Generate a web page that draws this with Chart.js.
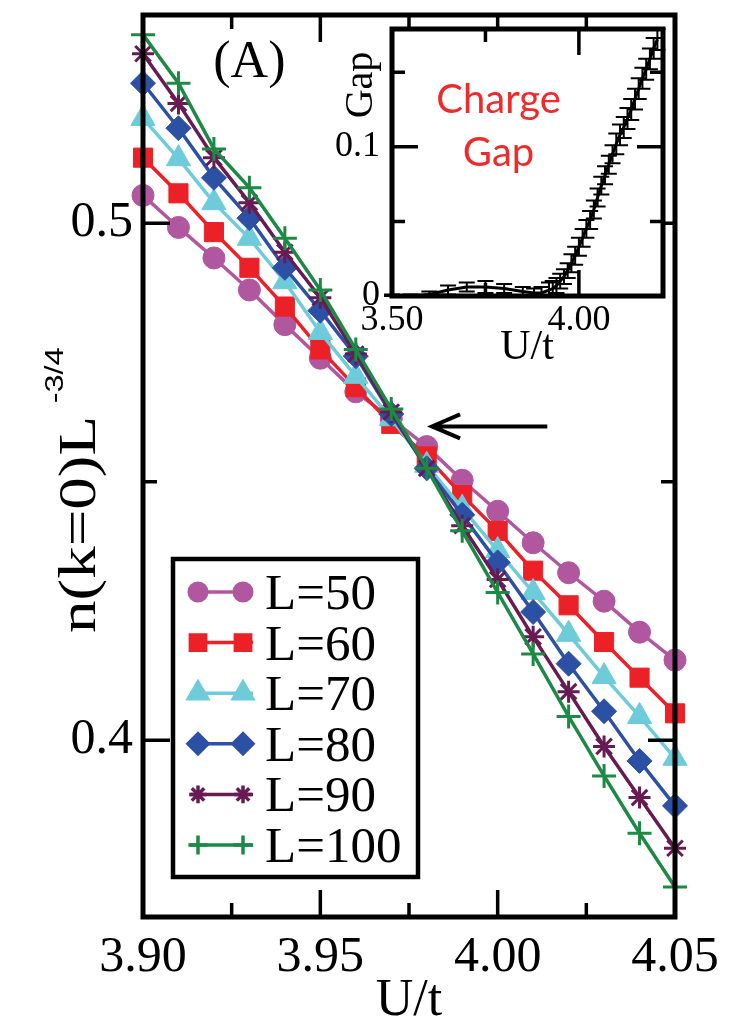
<!DOCTYPE html>
<html lang="en">
<head>
<meta charset="UTF-8" />
<title>n(k=0) L^-3/4 vs U/t</title>
<script src="https://cdn.jsdelivr.net/npm/chart.js"></script>
<style>
  body { margin: 0; background: #fff; }
  .wrap { position: relative; width: 740px; height: 1027px; }
  #main { position: absolute; left: 0; top: 0; }
  #inset { position: absolute; left: 300px; top: 0; }
</style>
</head>
<body>
<div class="wrap">
  <canvas id="main" width="740" height="1027"></canvas>
  <canvas id="inset" width="380" height="370"></canvas>
</div>
<script>
// ---- main panel data ----
const uValues = [3.90, 3.91, 3.92, 3.93, 3.94, 3.95, 3.96, 3.97, 3.98, 3.99, 4.00, 4.01, 4.02, 4.03, 4.04, 4.05];
const sizeLabels = ["L=50", "L=60", "L=70", "L=80", "L=90", "L=100"];
const nL50  = [0.5054, 0.4992, 0.4933, 0.4871, 0.4804, 0.4739, 0.4674, 0.4622, 0.4568, 0.4503, 0.4443, 0.4382, 0.4324, 0.4269, 0.4209, 0.4155];
const nL60  = [0.5127, 0.5058, 0.4983, 0.4914, 0.4839, 0.4756, 0.4683, 0.4612, 0.4549, 0.4474, 0.4405, 0.4328, 0.4261, 0.4190, 0.4121, 0.4052];
const nL70  = [0.5203, 0.5125, 0.5040, 0.4971, 0.4887, 0.4789, 0.4704, 0.4622, 0.4532, 0.4449, 0.4367, 0.4286, 0.4205, 0.4123, 0.4046, 0.3965];
const nL80  = [0.5271, 0.5184, 0.5088, 0.5010, 0.4914, 0.4831, 0.4743, 0.4631, 0.4526, 0.4436, 0.4344, 0.4248, 0.4148, 0.4056, 0.3960, 0.3873];
const nL90  = [0.5328, 0.5232, 0.5127, 0.5040, 0.4944, 0.4856, 0.4747, 0.4635, 0.4526, 0.4415, 0.4311, 0.4200, 0.4094, 0.3988, 0.3889, 0.3791];
const nL100 = [0.5365, 0.5271, 0.5144, 0.5069, 0.4971, 0.4871, 0.4756, 0.4641, 0.4526, 0.4405, 0.4286, 0.4167, 0.4046, 0.3931, 0.3820, 0.3716];
const xMajorTicks = [3.90, 3.95, 4.00, 4.05];
const xMinorTicks = [3.925, 3.975, 4.025];
const yMajorTicks = [0.4, 0.5];
const yMinorTicks = [0.45];
const arrowTail = [4.014, 0.4607];
const arrowTip = [3.9815, 0.4607];

// ---- inset (charge gap) data ----
const gapU = [3.50, 3.55, 3.60, 3.65, 3.70, 3.75, 3.80, 3.85, 3.88, 3.90, 3.92, 3.93, 3.94, 3.95, 3.96, 3.97,
              3.98, 3.99, 4.00, 4.01, 4.02, 4.03, 4.04, 4.05, 4.06, 4.07, 4.08, 4.09, 4.10, 4.11, 4.12, 4.13,
              4.14, 4.15, 4.16, 4.17, 4.18, 4.19, 4.20, 4.21];
const gapValues = [0.000, 0.000, 0.001, 0.004, 0.006, 0.006, 0.005, 0.003, 0.002, 0.002, 0.004, 0.005, 0.007, 0.010, 0.013, 0.017,
                   0.022, 0.027, 0.033, 0.039, 0.045, 0.051, 0.058, 0.066, 0.074, 0.081, 0.088, 0.095, 0.102, 0.108, 0.113, 0.119,
                   0.125, 0.132, 0.139, 0.146, 0.152, 0.159, 0.166, 0.172];
const gapErrors = [0.001, 0.001, 0.002, 0.003, 0.003, 0.004, 0.003, 0.003, 0.003, 0.004, 0.005, 0.005, 0.005, 0.005, 0.005, 0.005,
                   0.006, 0.006, 0.006, 0.006, 0.006, 0.006, 0.006, 0.006, 0.006, 0.006, 0.006, 0.006, 0.007, 0.007, 0.007, 0.007,
                   0.007, 0.007, 0.007, 0.007, 0.007, 0.007, 0.007, 0.007];
const insetXTicks = [3.5, 4.0];
const insetXMinor = [3.75];
const insetYTicks = [0, 0.1];
const insetYMinor = [0.05, 0.15];

// ---- styles ----
const serif = "Liberation Serif";
const seriesColors = ["#b0579f", "#ec2127", "#6ecbd9", "#2c50a4", "#681a52", "#1c8a45"];
const seriesMarkers = ["circle", "rect", "triangle", "rectRot", "star", "cross"];
const markerRadius = [11, 13.5, 14, 12.5, 11, 12];

Chart.defaults.font.family = serif;
Chart.defaults.color = "#000";

// drop the half-label padding chart.js reserves at the axis ends
const noEndPadding = (s) => { s.paddingTop = 0; s.paddingBottom = 0; };

// inward tick marks on all four sides plus the frame
function drawFrame(chart, xMaj, xMin, yMaj, yMin, lenMaj, lenMin, frameWidth) {
  const { ctx, chartArea: a, scales: { x, y } } = chart;
  ctx.save();
  ctx.strokeStyle = "#000";
  ctx.lineWidth = 3.5;
  ctx.beginPath();
  const xt = (v, len) => {
    const p = x.getPixelForValue(v);
    ctx.moveTo(p, a.bottom); ctx.lineTo(p, a.bottom - len);
    ctx.moveTo(p, a.top); ctx.lineTo(p, a.top + len);
  };
  const yt = (v, len) => {
    const p = y.getPixelForValue(v);
    ctx.moveTo(a.left, p); ctx.lineTo(a.left + len, p);
    ctx.moveTo(a.right, p); ctx.lineTo(a.right - len, p);
  };
  xMaj.forEach(v => xt(v, lenMaj));
  xMin.forEach(v => xt(v, lenMin));
  yMaj.forEach(v => yt(v, lenMaj));
  yMin.forEach(v => yt(v, lenMin));
  ctx.stroke();
  ctx.lineWidth = frameWidth;
  ctx.strokeRect(a.left, a.top, a.right - a.left, a.bottom - a.top);
  ctx.restore();
}

const mainDecor = {
  id: "mainDecor",
  afterDraw(chart) {
    const { ctx, chartArea: a, scales: { x, y } } = chart;
    drawFrame(chart, xMajorTicks, xMinorTicks, yMajorTicks, yMinorTicks, 27, 14, 5);

    // arrow pointing at the crossing
    const tx = x.getPixelForValue(arrowTip[0]), ty = y.getPixelForValue(arrowTip[1]);
    const sx = x.getPixelForValue(arrowTail[0]);
    ctx.save();
    ctx.strokeStyle = "#000";
    ctx.lineWidth = 4;
    ctx.beginPath();
    ctx.moveTo(sx, ty); ctx.lineTo(tx, ty);
    ctx.moveTo(tx + 28, ty - 12); ctx.lineTo(tx, ty); ctx.lineTo(tx + 28, ty + 12);
    ctx.stroke();

    // panel tag
    ctx.fillStyle = "#000";
    ctx.font = "52px " + serif;
    ctx.textAlign = "center";
    ctx.textBaseline = "middle";
    ctx.fillText("(A)", x.getPixelForValue(3.93), y.getPixelForValue(0.531));

    // y axis title with superscript
    ctx.save();
    ctx.translate(95, 633);
    ctx.rotate(-Math.PI / 2);
    ctx.scale(1.25, 1);
    ctx.textAlign = "left";
    ctx.textBaseline = "alphabetic";
    ctx.font = "52px " + serif;
    const w = ctx.measureText("n(k=0)L").width;
    ctx.fillText("n(k=0)L", 0, 0);
    ctx.font = "26px Liberation Sans";
    ctx.fillText("-3/4", w + 10, -32);
    ctx.restore();

    // legend box
    const bx = a.left + 30, by = a.top + 544, bw = 245, bh = 318;
    ctx.fillStyle = "#fff";
    ctx.fillRect(bx, by, bw, bh);
    ctx.lineWidth = 4.5;
    ctx.strokeRect(bx, by, bw, bh);
    chart.data.datasets.forEach((ds, i) => {
      const cy = by + 33 + i * 50.6;
      ctx.strokeStyle = ds.borderColor;
      ctx.fillStyle = ds.backgroundColor;
      ctx.lineWidth = 3.5;
      ctx.beginPath();
      ctx.moveTo(bx + 17, cy); ctx.lineTo(bx + 80, cy);
      ctx.stroke();
      const opts = { pointStyle: ds.pointStyle, radius: ds.pointRadius * 0.8, rotation: 0, borderWidth: ds.pointBorderWidth };
      Chart.helpers.drawPoint(ctx, opts, bx + 25, cy);
      Chart.helpers.drawPoint(ctx, opts, bx + 70, cy);
      ctx.fillStyle = "#000";
      ctx.font = "51px " + serif;
      ctx.textAlign = "left";
      ctx.textBaseline = "alphabetic";
      ctx.fillText(ds.label, bx + 92, cy + 17);
    });
    ctx.restore();
  }
};

const seriesData = [nL50, nL60, nL70, nL80, nL90, nL100];
new Chart(document.getElementById("main"), {
  type: "line",
  data: {
    datasets: seriesData.map((vals, i) => ({
      label: sizeLabels[i],
      data: vals.map((v, j) => ({ x: uValues[j], y: v })),
      borderColor: seriesColors[i],
      backgroundColor: seriesColors[i],
      borderWidth: 3.5,
      pointStyle: seriesMarkers[i],
      pointRadius: markerRadius[i],
      pointBorderWidth: i >= 4 ? 3 : 1,
      pointBorderColor: seriesColors[i],
      pointBackgroundColor: seriesColors[i],
      tension: 0,
      clip: false,
      order: 5 - i
    }))
  },
  options: {
    responsive: false,
    animation: false,
    devicePixelRatio: 1,
    layout: { padding: { top: 8, right: 65, left: 0, bottom: 0 } },
    plugins: { legend: { display: false }, tooltip: { enabled: false } },
    scales: {
      x: {
        type: "linear",
        min: 3.9,
        max: 4.05,
        afterBuildTicks: (s) => { s.ticks = xMajorTicks.map(v => ({ value: v })); },
        afterFit: (s) => { s.height = 110; },
        grid: { display: false, drawTicks: false },
        border: { display: false },
        ticks: { font: { size: 50 }, padding: 11, maxRotation: 0, autoSkip: false, callback: (v) => v.toFixed(2) },
        title: { display: true, text: "U/t", font: { size: 52, lineHeight: 1 }, padding: 0 }
      },
      y: {
        min: 0.3658,
        max: 0.5403,
        afterBuildTicks: (s) => { s.ticks = yMajorTicks.map(v => ({ value: v })); },
        afterFit: (s) => { s.width = 143; noEndPadding(s); },
        grid: { display: false, drawTicks: false },
        border: { display: false },
        ticks: { font: { size: 50 }, padding: 10, autoSkip: false, callback: (v) => v.toFixed(1) }
      }
    }
  },
  plugins: [mainDecor]
});

// ---- inset ----
const insetDecor = {
  id: "insetDecor",
  beforeDatasetsDraw(chart) {
    const { ctx, chartArea: a } = chart;
    ctx.save();
    ctx.fillStyle = "#fff";
    ctx.fillRect(a.left, a.top, a.right - a.left, a.bottom - a.top);
    ctx.restore();
  },
  afterDatasetsDraw(chart) {
    const { ctx, scales: { x, y } } = chart;
    ctx.save();
    ctx.strokeStyle = "#000";
    ctx.lineWidth = 2;
    ctx.beginPath();
    gapU.forEach((u, i) => {
      const px = x.getPixelForValue(u);
      const top = y.getPixelForValue(gapValues[i] + gapErrors[i]);
      const bot = y.getPixelForValue(Math.max(gapValues[i] - gapErrors[i], 0));
      ctx.moveTo(px, top); ctx.lineTo(px, bot);
      ctx.moveTo(px - 8, top); ctx.lineTo(px + 8, top);
      ctx.moveTo(px - 8, bot); ctx.lineTo(px + 8, bot);
    });
    ctx.stroke();
    ctx.restore();
  },
  afterDraw(chart) {
    const { ctx, chartArea: a, scales: { x, y } } = chart;
    drawFrame(chart, insetXTicks, insetXMinor, insetYTicks, insetYMinor, 26, 13, 5);
    ctx.save();
    ctx.fillStyle = "#000";
    ctx.font = "42px " + serif;
    ctx.textAlign = "center";
    ctx.textBaseline = "alphabetic";
    ctx.fillText("U/t", a.left + 135, a.bottom + 63);

    ctx.save();
    ctx.translate(a.left - 20, a.top + 56);
    ctx.rotate(-Math.PI / 2);
    ctx.font = "40px " + serif;
    ctx.fillText("Gap", 0, 0);
    ctx.restore();

    ctx.fillStyle = "#ee2a2a";
    ctx.font = "40px Lato";
    ctx.fillText("Charge", x.getPixelForValue(3.785), y.getPixelForValue(0.123));
    ctx.fillText("Gap", x.getPixelForValue(3.785), y.getPixelForValue(0.087));
    ctx.restore();
  }
};

new Chart(document.getElementById("inset"), {
  type: "line",
  data: {
    datasets: [{
      label: "Charge gap",
      data: gapU.map((u, i) => ({ x: u, y: gapValues[i] })),
      borderColor: "#000",
      borderWidth: 3,
      pointRadius: 0,
      tension: 0,
      clip: false
    }]
  },
  options: {
    responsive: false,
    animation: false,
    devicePixelRatio: 1,
    layout: { padding: { top: 29, right: 17, left: 0, bottom: 0 } },
    plugins: { legend: { display: false }, tooltip: { enabled: false } },
    scales: {
      x: {
        type: "linear",
        min: 3.5,
        max: 4.225,
        afterBuildTicks: (s) => { s.ticks = insetXTicks.map(v => ({ value: v })); },
        afterFit: (s) => { s.height = 74; },
        grid: { display: false, drawTicks: false },
        border: { display: false },
        ticks: { font: { size: 36 }, padding: 3, maxRotation: 0, autoSkip: false, callback: (v) => v.toFixed(2) }
      },
      y: {
        min: 0,
        max: 0.179,
        afterBuildTicks: (s) => { s.ticks = insetYTicks.map(v => ({ value: v })); },
        afterFit: (s) => { s.width = 92; noEndPadding(s); },
        grid: { display: false, drawTicks: false },
        border: { display: false },
        ticks: { font: { size: 36 }, padding: 12, autoSkip: false, callback: (v) => (v === 0 ? "0" : v.toFixed(1)) }
      }
    }
  },
  plugins: [insetDecor]
});
</script>
</body>
</html>
